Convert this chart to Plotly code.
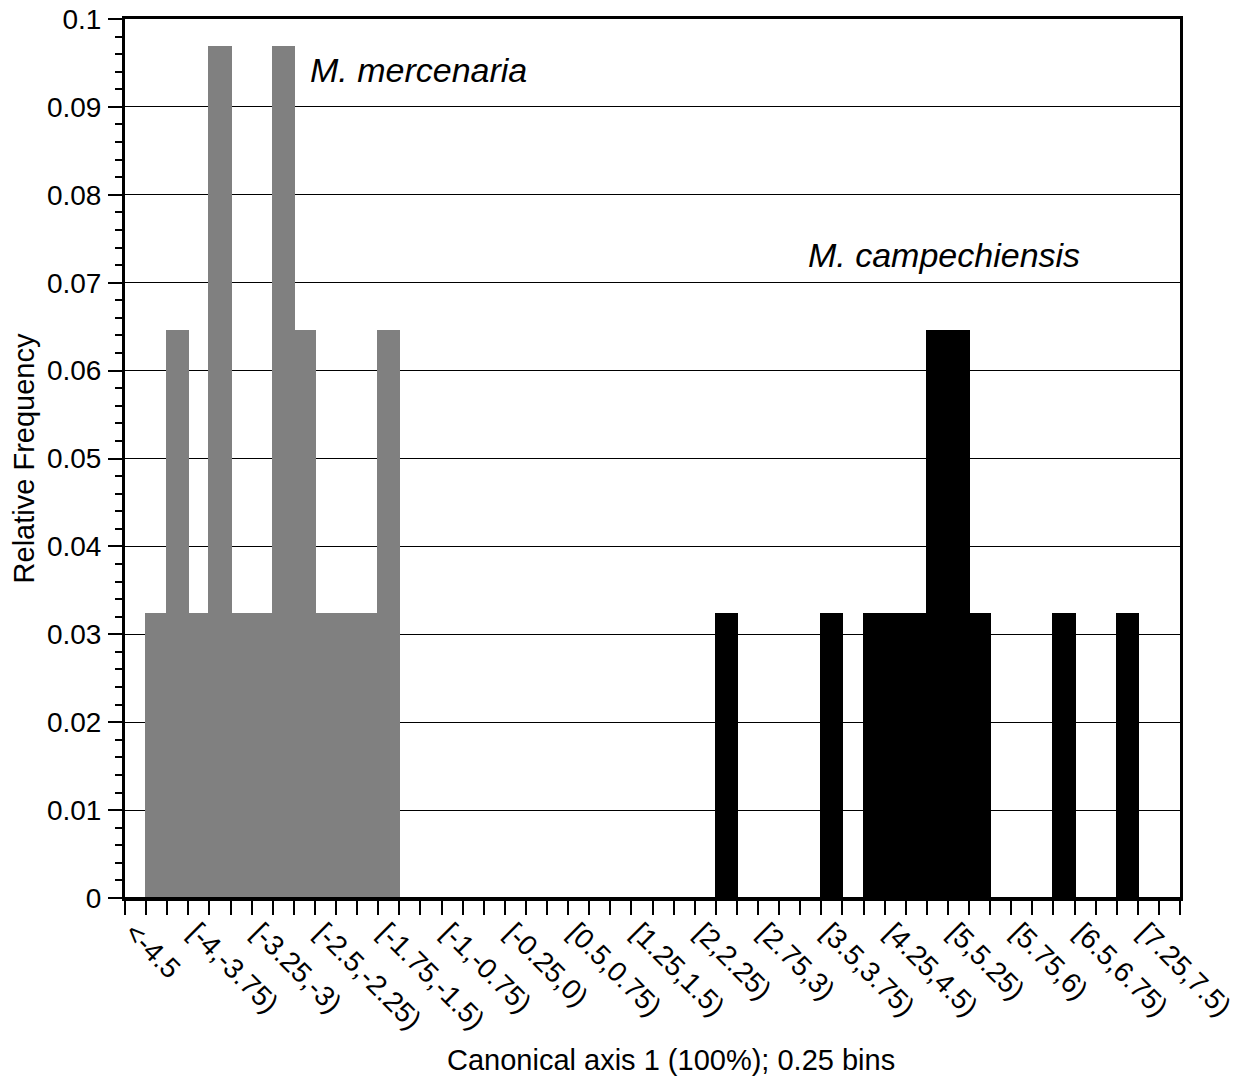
import plotly.graph_objects as go

# ---- data ----
categories = [
    "<-4.5", "[-4.5,-4.25)", "[-4.25,-4)", "[-4,-3.75)", "[-3.75,-3.5)",
    "[-3.5,-3.25)", "[-3.25,-3)", "[-3,-2.75)", "[-2.75,-2.5)", "[-2.5,-2.25)",
    "[-2.25,-2)", "[-2,-1.75)", "[-1.75,-1.5)", "[-1.5,-1.25)", "[-1.25,-1)",
    "[-1,-0.75)", "[-0.75,-0.5)", "[-0.5,-0.25)", "[-0.25,0)", "[0,0.25)",
    "[0.25,0.5)", "[0.5,0.75)", "[0.75,1)", "[1,1.25)", "[1.25,1.5)",
    "[1.5,1.75)", "[1.75,2)", "[2,2.25)", "[2.25,2.5)", "[2.5,2.75)",
    "[2.75,3)", "[3,3.25)", "[3.25,3.5)", "[3.5,3.75)", "[3.75,4)",
    "[4,4.25)", "[4.25,4.5)", "[4.5,4.75)", "[4.75,5)", "[5,5.25)",
    "[5.25,5.5)", "[5.5,5.75)", "[5.75,6)", "[6,6.25)", "[6.25,6.5)",
    "[6.5,6.75)", "[6.75,7)", "[7,7.25)", "[7.25,7.5)", ">=7.5",
]

mercenaria_freq = [
    0, 0.0323, 0.0645, 0.0323, 0.0968, 0.0323, 0.0323, 0.0968, 0.0645, 0.0323,
    0.0323, 0.0323, 0.0645, 0, 0, 0, 0, 0, 0, 0,
    0, 0, 0, 0, 0, 0, 0, 0, 0, 0,
    0, 0, 0, 0, 0, 0, 0, 0, 0, 0,
    0, 0, 0, 0, 0, 0, 0, 0, 0, 0,
]

campechiensis_freq = [
    0, 0, 0, 0, 0, 0, 0, 0, 0, 0,
    0, 0, 0, 0, 0, 0, 0, 0, 0, 0,
    0, 0, 0, 0, 0, 0, 0, 0, 0.0323, 0,
    0, 0, 0, 0.0323, 0, 0.0323, 0.0323, 0.0323, 0.0645, 0.0645,
    0.0323, 0, 0, 0, 0.0323, 0, 0, 0.0323, 0, 0,
]

tick_labels = [
    "<-4.5", "[-4,-3.75)", "[-3.25,-3)", "[-2.5,-2.25)", "[-1.75,-1.5)",
    "[-1,-0.75)", "[-0.25,0)", "[0.5,0.75)", "[1.25,1.5)", "[2,2.25)",
    "[2.75,3)", "[3.5,3.75)", "[4.25,4.5)", "[5,5.25)", "[5.75,6)",
    "[6.5,6.75)", "[7.25,7.5)",
]

y_ticks = [0, 0.01, 0.02, 0.03, 0.04, 0.05, 0.06, 0.07, 0.08, 0.09, 0.1]

FONT = "Liberation Sans, Arial, sans-serif"

# numeric positions on the category scale (bin i spans [i, i+1])
idx = list(range(len(categories)))
centers = [i + 0.5 for i in idx]
boundaries = list(range(len(categories) + 1))
labelled = {categories.index(t): t for t in tick_labels}
ticktext = [labelled.get(b, "") for b in boundaries]

fig = go.Figure()
fig.add_trace(go.Bar(
    x=centers, y=mercenaria_freq, width=1,
    marker=dict(color="#808080", line=dict(color="#808080", width=2)),
    name="M. mercenaria", hovertext=categories,
))
fig.add_trace(go.Bar(
    x=centers, y=campechiensis_freq, width=1,
    marker=dict(color="#000000", line=dict(color="#000000", width=2)),
    name="M. campechiensis", hovertext=categories,
))

fig.add_annotation(x=8.68, y=0.0942, text="<i>M. mercenaria</i>", showarrow=False,
                   xanchor="left", yanchor="middle",
                   font=dict(family=FONT, size=34, color="black"))
fig.add_annotation(x=32.29, y=0.0731, text="<i>M. campechiensis</i>", showarrow=False,
                   xanchor="left", yanchor="middle",
                   font=dict(family=FONT, size=34, color="black"))
# x-axis title
fig.add_annotation(x=0.5175, y=-0.1843, xref="paper", yref="paper",
                   text="Canonical axis 1 (100%); 0.25 bins", showarrow=False,
                   xanchor="center", yanchor="middle",
                   font=dict(family=FONT, size=29, color="black"))

fig.update_layout(
    width=1244, height=1078,
    margin=dict(l=125, r=64, t=19, b=180, autoexpand=False),
    paper_bgcolor="white", plot_bgcolor="white",
    barmode="overlay", bargap=0, showlegend=False,
    font=dict(family=FONT, size=28, color="black"),
)

fig.update_xaxes(
    range=[0, len(categories)],
    tickmode="array", tickvals=boundaries, ticktext=ticktext,
    tickangle=45, ticks="outside", ticklen=14, tickwidth=1.5, tickcolor="black",
    ticklabelstandoff=-10, ticklabelshift=8,
    showgrid=False, zeroline=False,
    showline=True, linewidth=3, linecolor="black", mirror=True,
    tickfont=dict(family=FONT, size=28, color="black"),
)

fig.update_yaxes(
    range=[0, 0.1],
    tickmode="array", tickvals=y_ticks, ticktext=[f"{v:g}" for v in y_ticks],
    ticks="outside", ticklen=14, tickwidth=1.5, tickcolor="black",
    ticklabelstandoff=1,
    minor=dict(dtick=0.002, tick0=0, ticks="outside", ticklen=7, tickwidth=1.5,
               tickcolor="black", showgrid=False),
    showgrid=True, gridcolor="black", gridwidth=1.2,
    zeroline=False,
    showline=True, linewidth=3, linecolor="black", mirror=True,
    tickfont=dict(family=FONT, size=28, color="black"),
    title=dict(text="Relative Frequency",
               font=dict(family=FONT, size=29, color="black"), standoff=4),
)

# remove the default 8px page margin so the figure sits at the window's corner
fig.write_html("out.html",
               config={"displayModeBar": False},
               post_script="document.body.style.margin='0px';")
